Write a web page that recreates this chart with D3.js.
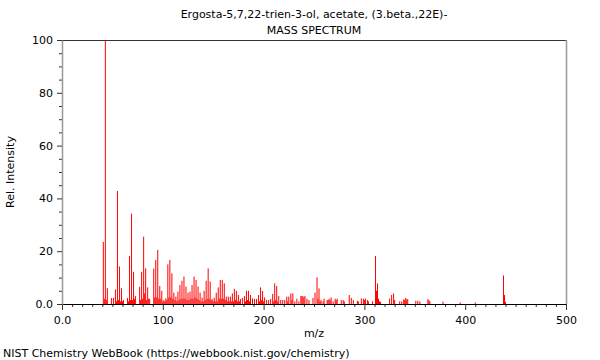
<!DOCTYPE html>
<html>
<head>
<meta charset="utf-8">
<script src="https://cdn.jsdelivr.net/npm/d3@7"></script>
<style>
  html, body { margin: 0; padding: 0; background: #fff; }
  svg { display: block; font-family: "DejaVu Sans", sans-serif; }
</style>
</head>
<body>
<svg id="chart" width="600" height="360"></svg>
<script>
const titleLines = ["Ergosta-5,7,22-trien-3-ol, acetate, (3.beta.,22E)-", "MASS SPECTRUM"];
const xLabel = "m/z";
const yLabel = "Rel. Intensity";
const footer = "NIST Chemistry WebBook (https://webbook.nist.gov/chemistry)";

const xMajorTicks = [0, 100, 200, 300, 400, 500];
const xTickLabels = ["0.0", "100", "200", "300", "400", "500"];
const yMajorTicks = [0, 20, 40, 60, 80, 100];
const yTickLabels = ["0.0", "20", "40", "60", "80", "100"];

const mz = [41,42,43,44,45,49,51,53,54,55,56,57,58,59,60,61,65,66,67,68,69,70,71,72,73,77,78,79,80,81,82,83,84,85,86,87,
  91,92,93,94,95,96,97,98,99,100,101,102,103,104,105,106,107,108,109,110,111,112,113,114,115,116,117,118,119,120,
  121,122,123,124,125,126,127,128,129,130,131,132,133,134,135,136,137,138,139,140,141,142,143,144,145,146,147,148,149,150,
  151,152,153,154,155,156,157,158,159,160,161,162,163,164,165,166,167,168,169,170,171,172,173,174,175,176,177,179,
  181,182,183,184,185,186,187,189,191,193,195,196,197,198,199,200,201,203,205,207,209,210,211,212,213,214,215,217,219,
  221,223,224,225,227,228,229,231,233,235,237,238,239,240,241,243,245,249,251,253,254,255,256,257,259,260,263,264,265,266,267,269,
  271,272,273,277,279,280,285,287,289,293,294,297,299,300,301,303,304,308,311,312,313,314,315,316,
  325,327,329,330,335,337,339,340,341,342,343,351,353,355,363,364,365,378,395,410,438,439,440];
const intensity = [23.5,2,100,1.5,6,2.3,2.3,5.5,1,42.8,1.5,14.2,1,6,1,1.5,2.3,1,18.2,1.5,34.2,1.5,12.2,2,3,6.5,1.5,12.2,2,25.5,4,13.5,1.5,6.3,2,2,
  13.4,2.5,16.7,2.5,20.5,2,6.8,2,5,1,1.5,1,2.2,1.5,15,2.5,16.7,2.5,11.6,2,4.3,1.5,2.8,1,4.7,1.5,7.2,2,8.8,2,
  10.4,2,6.6,1.5,4.3,1.5,4.7,2,7.2,2,10.4,2.5,9.1,2,6.6,1.5,4.3,1,2.4,1,5,1.5,8.8,2,13.5,2,8.5,1.5,1.9,1,
  2.4,1,4.3,1,6.3,2,9.1,2,9.1,2,7.8,1.5,2.8,1,2.8,1,2.8,1,4,1,5.8,1.5,5,1,3.4,1,1.9,2.3,
  3,1,5,1.5,5,1,3.4,2.1,1.9,1.9,3.4,1,6.3,1.5,4.9,1,2.5,1.5,1.5,1.9,3.8,1,7.8,1.5,6.8,1,3,1.5,1.5,
  1.5,2.8,1,2.8,4,1.5,4,1,2,1,3,3,3,2.5,3,2,1.5,2.3,4.3,10.1,2,5.9,1,1.5,1,2,1.5,1.5,2,1.5,2.5,1,
  2,1.5,2,1.5,1.5,1,3.4,2.3,1.5,1.2,1,2.1,2,1.5,2,1.5,1,1,18.2,5,7.8,2,1,0.8,
  2.1,3.4,4,1.5,1,1,1.8,1.5,2.3,1.8,1.8,1.2,1.2,1,1.8,1.5,1,0.9,0.6,0.6,10.8,3.4,0.8];

const svg = d3.select("#chart");
const pLeft = 62, pRight = 566, pTop = 40, pBottom = 304;
const x = d3.scaleLinear().domain([0, 500]).range([pLeft, pRight]);
const y = d3.scaleLinear().domain([0, 100]).range([pBottom, pTop]);

// peaks
const peaks = mz.map((m, i) => ({ m, v: intensity[i] }));
svg.append("g").selectAll("line").data(peaks).join("line")
  .attr("x1", d => x(d.m)).attr("x2", d => x(d.m))
  .attr("y1", y(0)).attr("y2", d => y(d.v))
  .attr("stroke", "#ff0000").attr("stroke-width", 1);

// frame
svg.append("line").attr("x1", pLeft).attr("x2", pRight).attr("y1", pTop + 0.5).attr("y2", pTop + 0.5)
  .attr("stroke", "#333").attr("stroke-width", 1);
svg.append("line").attr("x1", pRight + 0.5).attr("x2", pRight + 0.5).attr("y1", pTop).attr("y2", pBottom)
  .attr("stroke", "#999").attr("stroke-width", 1.5);

// x axis
const xMinor = d3.range(0, 501, 10).filter(v => v % 100 !== 0);
const gxMinor = svg.append("g").attr("transform", `translate(0,${pBottom})`)
  .call(d3.axisBottom(x).tickValues(xMinor).tickSize(3).tickFormat(""));
gxMinor.select(".domain").remove();
const gx = svg.append("g").attr("transform", `translate(0,${pBottom})`)
  .call(d3.axisBottom(x).tickValues(xMajorTicks).tickSize(6).tickSizeOuter(0).tickPadding(6)
    .tickFormat((d, i) => xTickLabels[i]));
gx.selectAll("text").attr("font-size", 11).attr("font-family", "DejaVu Sans").attr("fill", "#000");

// y axis
const yMinor = d3.range(0, 101, 5).filter(v => v % 20 !== 0);
const gyMinor = svg.append("g").attr("transform", `translate(${pLeft},0)`)
  .call(d3.axisLeft(y).tickValues(yMinor).tickSize(3).tickFormat(""));
gyMinor.select(".domain").remove();
const gy = svg.append("g").attr("transform", `translate(${pLeft},0)`)
  .call(d3.axisLeft(y).tickValues(yMajorTicks).tickSize(5).tickSizeOuter(0).tickPadding(4)
    .tickFormat((d, i) => yTickLabels[i]));
gy.selectAll("text").attr("font-size", 11).attr("font-family", "DejaVu Sans").attr("fill", "#000");
gy.select(".domain").attr("stroke", "#999").attr("stroke-width", 1.5);
svg.selectAll(".tick line").attr("stroke", "#333");

// titles
svg.append("text").attr("x", 314).attr("y", 18).attr("text-anchor", "middle")
  .attr("font-size", 11).text(titleLines[0]);
svg.append("text").attr("x", 314).attr("y", 34).attr("text-anchor", "middle")
  .attr("font-size", 11).text(titleLines[1]);
svg.append("text").attr("x", 314).attr("y", 337).attr("text-anchor", "middle")
  .attr("font-size", 11).text(xLabel);
svg.append("text").attr("transform", "translate(14,172) rotate(-90)").attr("text-anchor", "middle")
  .attr("font-size", 11).text(yLabel);
svg.append("text").attr("x", 3).attr("y", 357).attr("font-size", 11).text(footer);
</script>
</body>
</html>
